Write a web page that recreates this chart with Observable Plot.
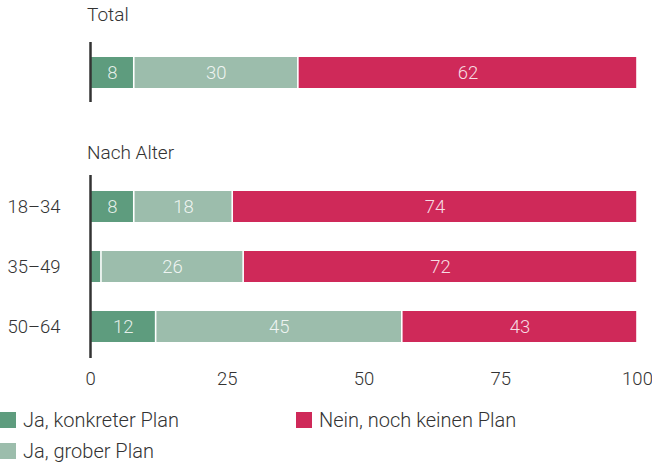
<!DOCTYPE html>
<html><head><meta charset="utf-8">
<script src="https://cdn.jsdelivr.net/npm/d3@7"></script>
<script src="https://cdn.jsdelivr.net/npm/@observablehq/plot@0.6"></script>
<style>
body{margin:0;background:#fff;font-family:Roboto,"Liberation Sans",sans-serif;font-weight:300;color:#333;overflow:hidden;}
.hd{font-size:19px;position:relative;}
.hd span{position:absolute;left:87px;}
svg{display:block;}
.legend{display:grid;grid-template-columns:296px 320px;grid-template-rows:36px 26px;grid-auto-flow:column;margin-top:12px;font-size:20px;line-height:20px;}
.legend div{display:flex;align-items:center;}
.legend i{display:inline-block;width:16px;height:16px;margin-right:7px;}
</style></head>
<body>
<div id="chart"></div>
<script>
const groups = ["Total", "18–34", "35–49", "50–64"];
const series = ["Ja, konkreter Plan", "Ja, grober Plan", "Nein, noch keinen Plan"];
const konkret = [8, 8, 2, 12];
const grob = [30, 18, 26, 45];
const nein = [62, 74, 72, 43];
const colors = ["#5e9c7e", "#9cbdac", "#cf2959"];
const xTicks = [0, 25, 50, 75, 100];

const valuesBySeries = [konkret, grob, nein];
const data = [];
series.forEach((s, si) => groups.forEach((g, gi) => data.push({group: g, series: s, value: valuesBySeries[si][gi]})));

const font = "Roboto, 'Liberation Sans', sans-serif";
function marks(rows) {
  return [
    Plot.barX(rows, {x: "value", y: "group", fill: "series", insetLeft: 0.8, insetRight: 0.8}),
    Plot.textX(rows, Plot.stackX({x: "value", y: "group", z: "series", text: d => d.value >= 5 ? String(d.value) : "", fill: "white", fillOpacity: 0.85, fontSize: 18.5, fontWeight: 300})),
    Plot.ruleX([0], {stroke: "#333", strokeWidth: 2.5})
  ];
}

const root = document.getElementById("chart");
const h1 = document.createElement("div"); h1.className = "hd"; h1.style.height = "42px";
h1.innerHTML = "<span style='top:3px'>Total</span>"; root.appendChild(h1);

const totalRows = data.filter(d => d.group === "Total");
const p1 = Plot.plot({
  width: 652, height: 60, marginLeft: 90, marginRight: 15, marginTop: 0, marginBottom: 0,
  style: {fontFamily: font, fontSize: "18.5px", fontWeight: 300, color: "#333"},
  x: {domain: [0, 100], axis: null},
  y: {domain: ["Total"], padding: 0.32, axis: null},
  color: {domain: series, range: colors},
  marks: marks(totalRows)
});
root.appendChild(p1);

const h2 = document.createElement("div"); h2.className = "hd"; h2.style.height = "73px";
h2.innerHTML = "<span style='top:39px'>Nach Alter</span>"; root.appendChild(h2);

const ageRows = data.filter(d => d.group !== "Total");
const p2 = Plot.plot({
  width: 652, height: 215, marginLeft: 90, marginRight: 15, marginTop: 0, marginBottom: 32,
  style: {fontFamily: font, fontSize: "18.5px", fontWeight: 300, color: "#333"},
  x: {domain: [0, 100], ticks: xTicks, tickSize: 0, tickPadding: 13, label: null},
  y: {domain: groups.slice(1), paddingInner: 0.49, paddingOuter: 0.27, tickSize: 0, tickPadding: 30, label: null},
  color: {domain: series, range: colors},
  marks: marks(ageRows)
});
root.appendChild(p2);

const lg = document.createElement("div"); lg.className = "legend";
series.forEach((s, i) => {
  const it = document.createElement("div");
  it.innerHTML = `<i style="background:${colors[i]}"></i><span>${s}</span>`;
  lg.appendChild(it);
});
root.appendChild(lg);
</script>
</body></html>
